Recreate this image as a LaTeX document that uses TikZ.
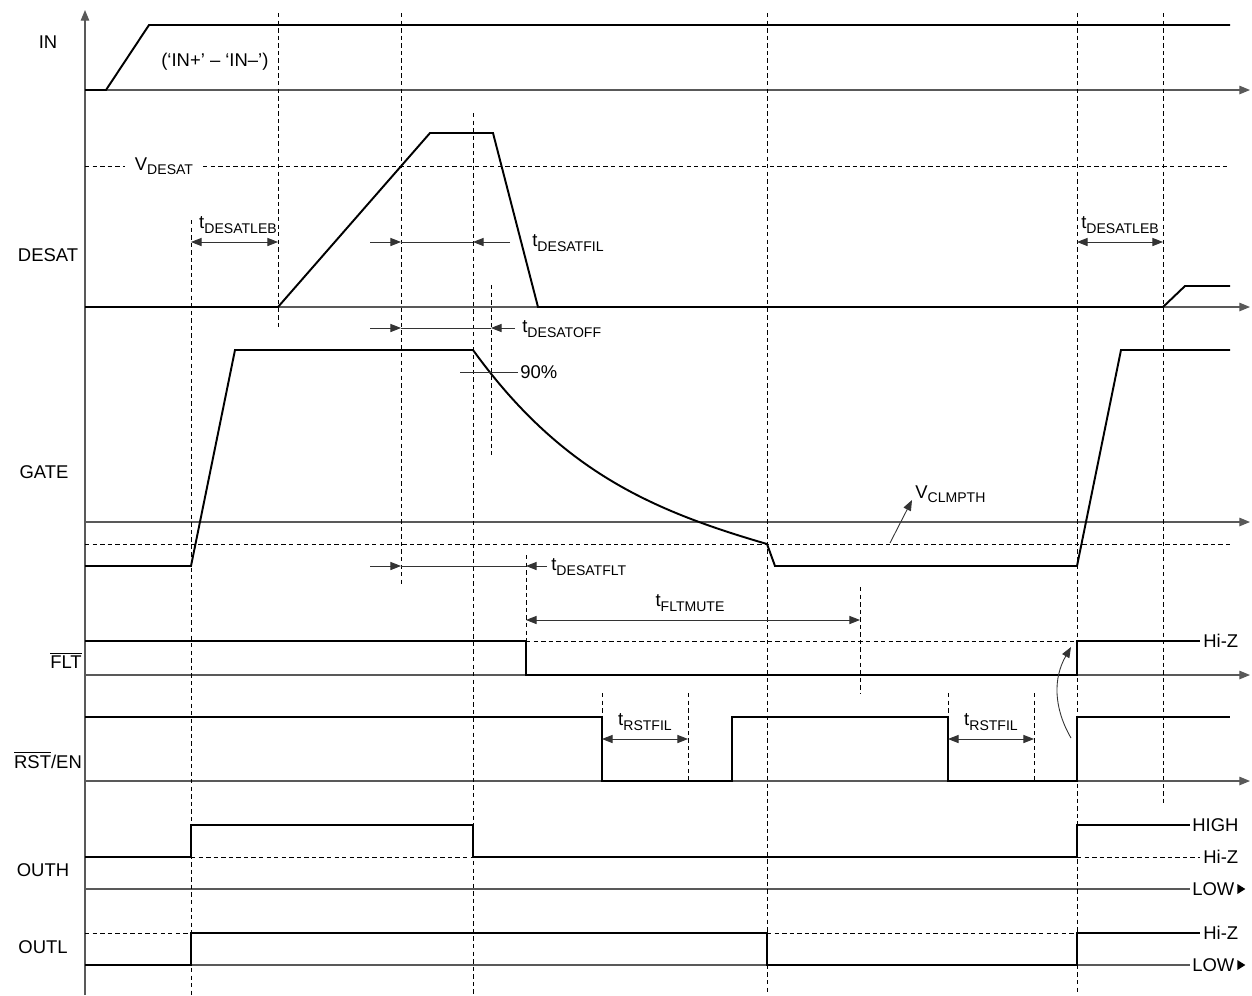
\documentclass[tikz,border=0pt]{standalone}
\usepackage{fontspec}
\setmainfont{Liberation Sans}
\usetikzlibrary{arrows.meta}
\newcommand\lsub[1]{\raisebox{-.45ex}{\fontsize{8}{9}\selectfont #1}}
\tikzset{sig/.style={line width=1.1pt},
  ax/.style={line width=.6pt,draw=black!65,-{Triangle[length=6pt,width=4.8pt]}},
  axl/.style={line width=.6pt,draw=black!65},
  grid/.style={line width=.5pt,dash pattern=on 2.5pt off 1.8pt},
  dim/.style={line width=.5pt,draw=black!80},
  tip/.style={-{Triangle[length=6pt,width=4.6pt]}},
  tips/.style={{Triangle[length=6pt,width=4.6pt]}-{Triangle[length=6pt,width=4.6pt]}}}
\begin{document}
\begin{tikzpicture}[x=.02cm,y=-.02cm,font=\fontsize{10.5}{12}\selectfont,every node/.style={inner sep=0pt}]
\useasboundingbox(0,0)rectangle(1252,995);
% axes
\draw[ax](85,995)--(85,10);
\foreach \y in {90,307,522,675,781}{\draw[ax](85,\y)--(1250,\y);}
\draw[axl](85,889)--(1190,889);\draw[axl](85,965)--(1190,965);
% dashed guides
\foreach \x/\a/\b in {191/220/995,278/13/328,401/13/585,473/113/995,491/285/455,526/555/675,602/693/781,688/693/781,767/13/995,860/587/693,948/693/781,1034/693/781,1077/13/995,1163/13/803}{\draw[grid](\x,\a)--(\x,\b);}
\draw[grid](85,166)--(125,166) (203,166)--(1230,166);\draw[grid](85,544)--(1230,544);\draw[grid](526,641)--(1077,641);
\draw[grid](191,857)--(473,857) (1077,857)--(1200,857);\draw[grid](85,933)--(191,933) (767,933)--(1077,933);
% signals
\draw[sig](85,90)--(106,90)--(149,25)--(1230,25);
\draw[sig](85,307)--(278,307)--(430,133)--(493,133)--(538,307)--(1163,307)--(1185,286)--(1230,286);
\draw[sig](85,566)--(191,566)--(235,350)--(473,350) .. controls (560,470) and (650,510) .. (767,544)--(775,566)--(1077,566)--(1121,350)--(1230,350);
\draw[sig](85,641)--(526,641)--(526,675)--(1077,675)--(1077,641)--(1200,641);
\draw[sig](85,717)--(602,717)--(602,781)--(732,781)--(732,717)--(948,717)--(948,781)--(1077,781)--(1077,717)--(1230,717);
\draw[sig](85,857)--(191,857)--(191,825)--(473,825)--(473,857)--(1077,857)--(1077,825)--(1190,825);
\draw[sig](85,965)--(191,965)--(191,933)--(767,933)--(767,965)--(1077,965)--(1077,933)--(1200,933);
% timing marks
\draw[dim,tips](191,242)--(278,242);\draw[dim,tips](1077,242)--(1163,242);
\draw[dim,tip](370,242)--(401,242);\draw[dim](401,242)--(473,242);\draw[dim,tip](510,242)--(473,242);
\draw[dim,tip](370,328)--(401,328);\draw[dim](401,328)--(491,328);\draw[dim,tip](515,328)--(491,328);
\draw[dim,tip](370,566)--(401,566);\draw[dim](401,566)--(526,566);\draw[dim,tip](547,566)--(526,566);
\draw[dim,tips](526,620)--(860,620);\draw[dim,tips](602,739)--(688,739);\draw[dim,tips](948,739)--(1034,739);
\draw[dim](460,372)--(518,372);\draw[dim,tip](890,543)--(912,500);
\draw[dim,tip](1071,738) to[bend left=30] (1071,647);
% labels
\node (lin) at (48,42){IN};\node (ldesat) at (48,255){DESAT};\node (lgate) at (44,472){GATE};
\node (lflt) at (66,660){$\overline{\mbox{FLT}}$};\node (lrst) at (48,760){$\overline{\mbox{RST}}$/EN};
\node (louth) at (43,870){OUTH};\node (loutl) at (43,947){OUTL};
\node[anchor=west] (ind) at (161,62){(‘IN+’ – ‘IN–’)};
\node (vdesat) at (164,166){V\lsub{DESAT}};
\node (leb1) at (238,225){t\lsub{DESATLEB}};\node (leb2) at (1120,225){t\lsub{DESATLEB}};
\node[anchor=west] (fil) at (532,243){t\lsub{DESATFIL}};\node[anchor=west] (off) at (522,329){t\lsub{DESATOFF}};
\node[anchor=west] (pct) at (520,372){90\%};\node[anchor=west] (flt) at (551,567){t\lsub{DESATFLT}};
\node[anchor=west] (clmp) at (915,494){V\lsub{CLMPTH}};\node (mute) at (690,603){t\lsub{FLTMUTE}};
\node (rst1) at (645,722){t\lsub{RSTFIL}};\node (rst2) at (991,722){t\lsub{RSTFIL}};
\node[anchor=west] (hzf) at (1203,641){Hi-Z};\node[anchor=west] (hi) at (1192,825){HIGH};
\node[anchor=west] (hzh) at (1203,857){Hi-Z};\node[anchor=west] (hzl) at (1203,933){Hi-Z};
\node[anchor=west] (loh) at (1192,889){LOW};\node[anchor=west] (lol) at (1192,965){LOW};
\fill ([xshift=1.5pt]loh.east)++(0,-5)--++(0,10)--++(8,-5)--cycle;
\fill ([xshift=1.5pt]lol.east)++(0,-5)--++(0,10)--++(8,-5)--cycle;
\end{tikzpicture}
\end{document}
